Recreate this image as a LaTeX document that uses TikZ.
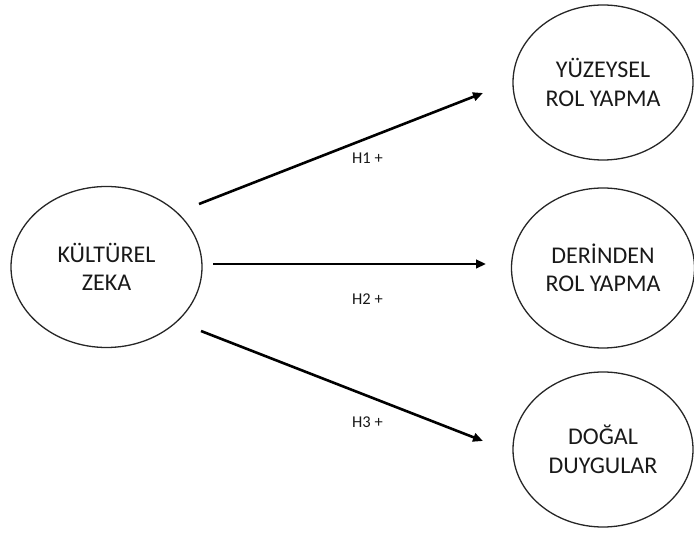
\documentclass[tikz,border=0pt]{standalone}
\usepackage{fontspec}
\setmainfont{Carlito}
\usetikzlibrary{shapes.geometric,arrows.meta}
\begin{document}
\begin{tikzpicture}[x=1pt,y=-1pt,
  construct/.style={ellipse,draw=black!85,line width=1.3pt,inner sep=0pt,
    align=center,text=black!90,font=\fontsize{24}{28.5}\selectfont},
  path arrow/.style={line width=2.6pt,-{Triangle[length=10pt,width=8.5pt]}},
  hyp/.style={font=\fontsize{16.5}{19}\selectfont,text=black!90,inner sep=0pt}]
\useasboundingbox (0,0) rectangle (694,534);
\node[construct,minimum width=191pt,minimum height=161pt] (kz) at (106.5,267) {KÜLTÜREL\\ZEKA};
\node[construct,minimum width=180pt,minimum height=155pt] (yr) at (603,82.5) {YÜZEYSEL\\ROL YAPMA};
\node[construct,minimum width=183pt,minimum height=160pt] (dr) at (603,268) {DERİNDEN\\ROL YAPMA};
\node[construct,minimum width=180pt,minimum height=155pt] (dd) at (603,449.5) {DOĞAL\\DUYGULAR};
\coordinate (s1) at (199,204);
\coordinate (t1) at (483,93);
\coordinate (s2) at (213,264);
\coordinate (t2) at (486,264);
\coordinate (s3) at (201,331);
\coordinate (t3) at (483,441);
\draw[path arrow] (s1) -- (t1);
\draw[path arrow] (s2) -- (t2);
\draw[path arrow] (s3) -- (t3);
\node[hyp] (h1) at (367.5,158) {H1 +};
\node[hyp] (h2) at (367.5,299) {H2 +};
\node[hyp] (h3) at (367.5,422) {H3 +};
\end{tikzpicture}
\end{document}
